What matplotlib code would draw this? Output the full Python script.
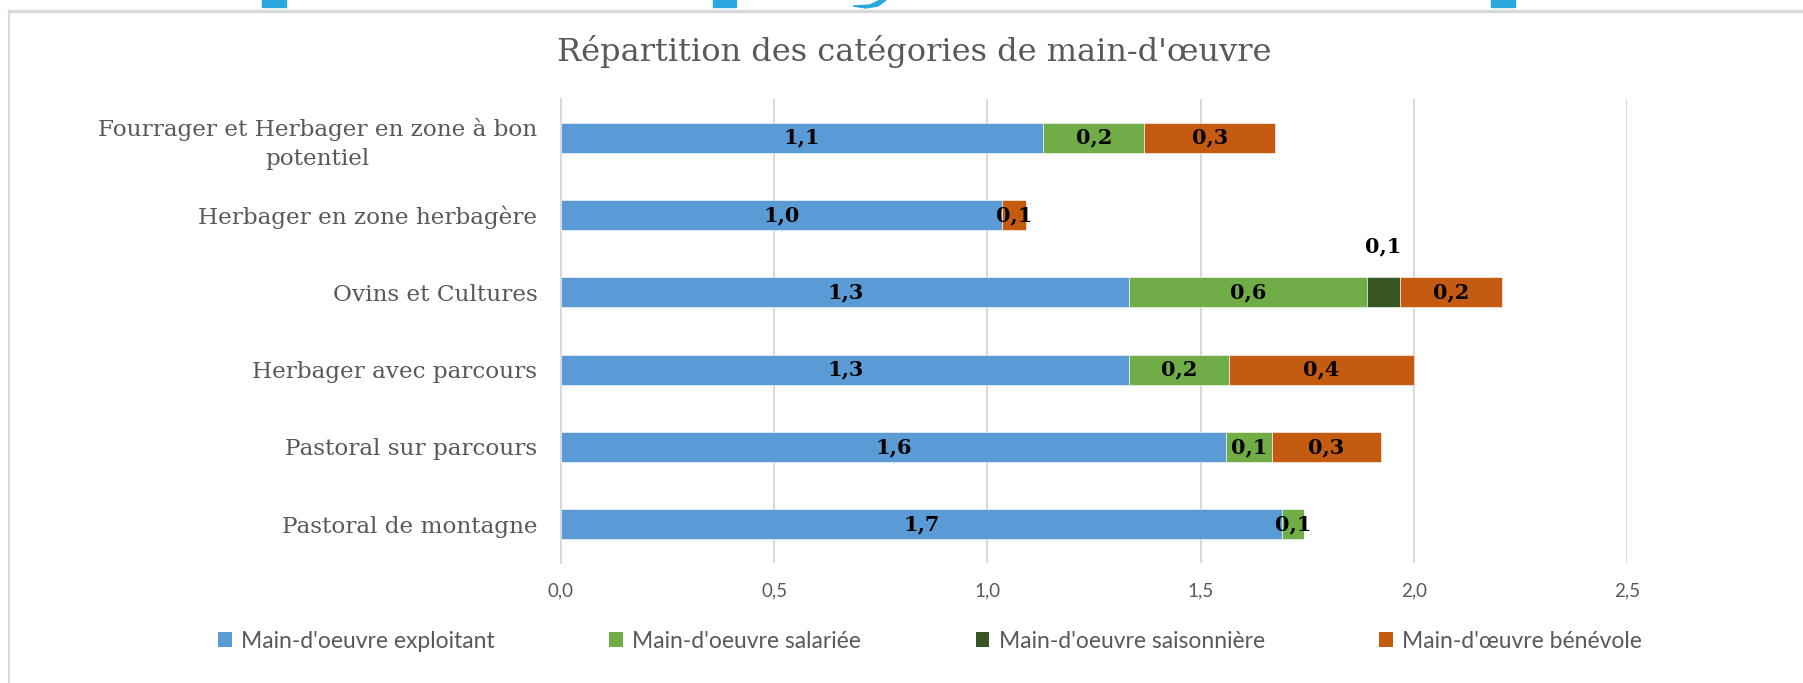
import matplotlib
matplotlib.use("Agg")
import matplotlib.pyplot as plt
from matplotlib.patches import Patch, Rectangle, Polygon
from matplotlib.lines import Line2D

categories = [
    "Fourrager et Herbager en zone à bon\npotentiel",
    "Herbager en zone herbagère",
    "Ovins et Cultures",
    "Herbager avec parcours",
    "Pastoral sur parcours",
    "Pastoral de montagne",
]
series_names = [
    "Main-d'oeuvre exploitant",
    "Main-d'oeuvre salariée",
    "Main-d'oeuvre saisonnière",
    "Main-d'œuvre bénévole",
]
exploitant = [1.131, 1.034, 1.333, 1.333, 1.559, 1.690]
salariee = [0.237, 0.0, 0.557, 0.233, 0.108, 0.052]
saisonniere = [0.0, 0.0, 0.077, 0.0, 0.0, 0.0]
benevole = [0.307, 0.057, 0.241, 0.434, 0.255, 0.0]
xticks = [0.0, 0.5, 1.0, 1.5, 2.0, 2.5]

colors = ["#5B9BD5", "#70AD47", "#375623", "#C55A11"]
series = [exploitant, salariee, saisonniere, benevole]

W, H = 1803, 683
fig = plt.figure(figsize=(W / 100, H / 100), dpi=100)

# decorative slide remnants and chart frame
frame_col = "#D9D9D9"
fig.add_artist(Line2D([9 / W, 1.0], [1 - 11 / H, 1 - 11 / H], color=frame_col, lw=2.5, transform=fig.transFigure))
fig.add_artist(Line2D([9 / W, 9 / W], [0.0, 1 - 11 / H], color=frame_col, lw=1.5, transform=fig.transFigure))
blue = "#29A8E0"
for x0, x1 in [(262, 286), (713, 736), (1491, 1515)]:
    fig.add_artist(Rectangle((x0 / W, 1 - 7 / H), (x1 - x0) / W, 7 / H, color=blue, transform=fig.transFigure))
fig.add_artist(Polygon([(853 / W, 1 - 6 / H), (870 / W, 1 - 5 / H), (880 / W, 1.0), (886 / W, 1.0), (878 / W, 1 - 6 / H), (866 / W, 1 - 8 / H)],
                       closed=True, color=blue, transform=fig.transFigure))

ax = fig.add_axes([561 / W, 1 - 563 / H, (1627 - 561) / W, (563 - 99) / H])
n = len(categories)
ypos = list(range(n - 1, -1, -1))
left = [0.0] * n
bar_h = 0.39
label_font = dict(family="DejaVu Serif", weight="bold", size=15, color="black")
for si, (vals, col, name) in enumerate(zip(series, colors, series_names)):
    ax.barh(ypos, vals, left=left, height=bar_h, color=col, edgecolor="white", linewidth=0.4, label=name, zorder=3)
    for i, v in enumerate(vals):
        if v <= 0:
            continue
        cx = left[i] + v / 2
        txt = f"{v:.1f}".replace(".", ",")
        if si == 2:
            ax.annotate(txt, (cx, ypos[i]), xytext=(0, 33), textcoords="offset points",
                        ha="center", va="center", zorder=5, **label_font)
        else:
            ax.text(cx, ypos[i], txt, ha="center", va="center", zorder=5, **label_font)
    left = [l + v for l, v in zip(left, vals)]

ax.set_xlim(0, 2.5)
ax.set_ylim(-0.5, n - 0.5)
ax.set_xticks(xticks)
ax.set_xticklabels([f"{t:.1f}".replace(".", ",") for t in xticks], family="Lato", size=13.5, color="#595959")
ax.set_yticks(ypos)
ax.set_yticklabels(categories, family="DejaVu Serif", size=16.7, color="#595959",
                   multialignment="center", linespacing=1.45)
ax.tick_params(axis="both", length=0)
ax.tick_params(axis="y", pad=17)
ax.tick_params(axis="x", pad=14)
ax.grid(axis="x", color=frame_col, lw=1.5, zorder=0)
for s in ["top", "right", "bottom"]:
    ax.spines[s].set_visible(False)
ax.spines["left"].set_color(frame_col)
ax.spines["left"].set_linewidth(1.5)

fig.text(914 / W, 1 - 52 / H, "Répartition des catégories de main-d'œuvre", ha="center", va="center",
         family="DejaVu Serif", size=23, color="#595959")

handles = [Patch(facecolor=c, edgecolor="none") for c in colors]
fig.legend(handles, series_names, loc="center", bbox_to_anchor=(930 / W, 1 - 641 / H), ncol=4,
           frameon=False, prop=dict(family="Lato", size=16.5), labelcolor="#595959",
           handlelength=0.6, handleheight=0.6, handletextpad=0.4, columnspacing=5.0)

fig.savefig("out.png", dpi=100, facecolor="white")
